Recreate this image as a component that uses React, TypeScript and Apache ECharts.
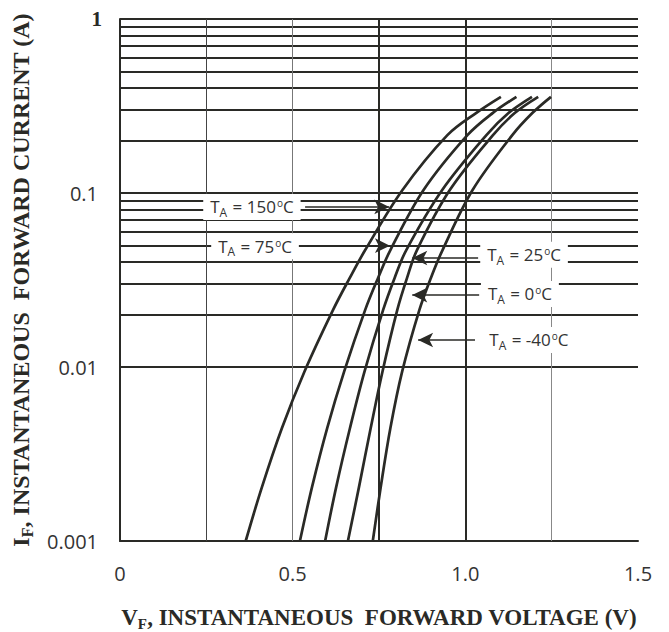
import React, { useEffect, useRef } from "react";
import * as echarts from "echarts";

// Forward current (A) sample levels shared by all curves
const currentA = [0.001, 0.00204, 0.00446, 0.0094, 0.0213, 0.0324, 0.047, 0.104, 0.215, 0.288, 0.357];
// Forward voltage (V) at each current level, per ambient temperature
const vT150 = [0.364, 0.411, 0.469, 0.534, 0.617, 0.665, 0.71, 0.818, 0.948, 1.031, 1.103];
const vT75 = [0.521, 0.556, 0.6, 0.649, 0.71, 0.747, 0.783, 0.879, 1.006, 1.079, 1.148];
const vT25 = [0.594, 0.626, 0.666, 0.708, 0.762, 0.795, 0.829, 0.933, 1.061, 1.125, 1.193];
const vT0 = [0.66, 0.692, 0.726, 0.76, 0.803, 0.831, 0.86, 0.955, 1.08, 1.143, 1.211];
const vTm40 = [0.732, 0.755, 0.783, 0.817, 0.867, 0.9, 0.934, 1.021, 1.136, 1.194, 1.248];
const curveVolts = [vT150, vT75, vT25, vT0, vTm40];
const temps = ["150", "75", "25", "0", "-40"];

const xTicks = [0, 0.5, 1.0, 1.5];
const xTickLabels = ["0", "0.5", "1.0", "1.5"];
const yTicks = [0.001, 0.01, 0.1, 1];
const yTickLabels = ["0.001", "0.01", "0.1", "1"];

const hGridCurrents = [
  0.002, 0.003, 0.004, 0.005, 0.006, 0.007, 0.008, 0.009,
  0.01, 0.02, 0.03, 0.04, 0.05, 0.06, 0.07, 0.08, 0.09,
  0.1, 0.2, 0.3, 0.4, 0.5, 0.6, 0.7, 0.8, 0.9, 1,
];
const vGridVolts = [0.25, 0.5, 0.75, 1.0, 1.25];

// annotation anchors (data space)
const labelV = [0.382, 0.391, 1.17, 1.158, 1.184];
const labelI = [0.0832, 0.0495, 0.0441, 0.0263, 0.0143];
const arrowFromV = [0.536, 0.544, 1.037, 1.04, 1.028];
const arrowToV = [0.8, 0.802, 0.826, 0.826, 0.843];
const arrowI = [0.0832, 0.0498, 0.0423, 0.0259, 0.0143];

const INK = "#2a2a26";
const SANS = "'Open Sans', 'Noto Sans', sans-serif";
const SERIF = "'Liberation Serif', 'DejaVu Serif', serif";

const vGridStyles = [
  { color: "#444", width: 1 },
  { color: "#777", width: 1 },
  { color: INK, width: 2 },
  { color: INK, width: 2 },
  { color: "#888", width: 1 },
];

export default function App() {
  const ref = useRef<HTMLDivElement>(null);

  useEffect(() => {
    if (!ref.current) return;
    const chart = echarts.init(ref.current, undefined, { renderer: "svg" });

    const nameRich = (size: number) => ({
      b: { fontFamily: SERIF, fontWeight: "bold", fontSize: size, color: INK, lineHeight: 26 },
      s: {
        fontFamily: SERIF,
        fontWeight: "bold",
        fontSize: Math.round(size * 0.66),
        color: INK,
        lineHeight: 13,
        padding: [13, 0, 0, 0],
      },
    });

    const labelRich = {
      t: { fontFamily: SANS, fontSize: 17, color: "#333", lineHeight: 22 },
      s: { fontFamily: SANS, fontSize: 12, color: "#333", lineHeight: 11, padding: [11, 1, 0, 0] },
      o: { fontFamily: SANS, fontSize: 10, color: "#333", lineHeight: 10, padding: [0, 0, 7, 1] },
    };

    const curveSeries = curveVolts.map((vs, k) => ({
      name: "TA = " + temps[k] + "°C",
      type: "line",
      data: vs.map((v, i) => [v, currentA[i]]),
      smooth: 0.35,
      showSymbol: false,
      symbol: "none",
      lineStyle: { color: INK, width: 2.7 },
      z: 3,
      silent: true,
    }));

    // arrow head: half of its length back from the tip, in data units
    const headHalf = 7 / 345.3;

    const option: any = {
      animation: false,
      backgroundColor: "#fff",
      grid: { left: 120, right: 31, top: 19, bottom: 91, containLabel: false, outerBoundsMode: "none" },
      xAxis: {
        type: "value",
        min: 0,
        max: 1.5,
        interval: 0.5,
        axisLine: { show: true, lineStyle: { color: INK, width: 2 } },
        axisTick: { show: false },
        splitLine: { show: false },
        axisLabel: {
          margin: 22,
          fontFamily: SANS,
          fontSize: 20,
          color: "#333",
          formatter: (v: number) => {
            const i = xTicks.findIndex((t) => Math.abs(t - v) < 1e-6);
            return i >= 0 ? xTickLabels[i] : "";
          },
        },
        name: "{b|V}{s|F}{b|, INSTANTANEOUS  FORWARD VOLTAGE (V)}",
        nameLocation: "middle",
        nameGap: 63,
        nameTextStyle: { rich: nameRich(23) },
      },
      yAxis: {
        type: "log",
        logBase: 10,
        min: 0.001,
        max: 1,
        axisLine: { show: true, lineStyle: { color: INK, width: 2 } },
        axisTick: { show: false },
        splitLine: { show: false },
        minorSplitLine: { show: false },
        axisLabel: {
          margin: 22,
          formatter: (v: number) => {
            const i = yTicks.findIndex((t) => Math.abs(Math.log10(t) - Math.log10(v)) < 0.01);
            if (i < 0) return "";
            const s = yTickLabels[i];
            return s === "1" ? "{b|" + s + "}" : "{n|" + s + "}";
          },
          rich: {
            n: { fontFamily: SANS, fontSize: 20, color: "#333" },
            b: { fontFamily: SERIF, fontWeight: "bold", fontSize: 21, color: INK, padding: [0, -4, 0, 0] },
          },
        },
        name: "{b|I}{s|F}{b|, INSTANTANEOUS  FORWARD CURRENT (A)}",
        nameLocation: "middle",
        nameGap: 86,
        nameRotate: 90,
        nameTextStyle: { rich: nameRich(24) },
      },
      series: [
        {
          type: "line",
          data: [],
          silent: true,
          z: 1,
          markLine: {
            silent: true,
            z: 1,
            symbol: ["none", "none"],
            label: { show: false },
            emphasis: { disabled: true },
            animation: false,
            data: [
              ...hGridCurrents.map((c) => ({ yAxis: c, lineStyle: { color: INK, width: 2.2, type: "solid" } })),
              ...vGridVolts.map((v, i) => ({ xAxis: v, lineStyle: { ...vGridStyles[i], type: "solid" } })),
            ],
          },
        },
        ...curveSeries,
        {
          type: "line",
          data: [],
          silent: true,
          z: 10,
          markLine: {
            silent: true,
            z: 10,
            symbol: ["none", "none"],
            label: { show: false },
            emphasis: { disabled: true },
            animation: false,
            lineStyle: { color: INK, width: 1.6, type: "solid" },
            data: temps.map((_, i) => [
              { coord: [arrowFromV[i], arrowI[i]] },
              { coord: [arrowToV[i] + (arrowToV[i] > arrowFromV[i] ? -headHalf : headHalf), arrowI[i]] },
            ]),
          },
          markPoint: {
            silent: true,
            z: 11,
            animation: false,
            data: [
              ...temps.map((t, i) => ({
                coord: [labelV[i], labelI[i]],
                symbol: "circle",
                symbolSize: 1,
                itemStyle: { color: "rgba(0,0,0,0)" },
                label: {
                  show: true,
                  position: "inside",
                  backgroundColor: "#fff",
                  padding: [2, 7, 2, 7],
                  rich: labelRich,
                  formatter: "{t|T}{s|A}{t| = " + t + "}{o|o}{t|C}",
                },
              })),
              ...temps.map((_, i) => {
                const right = arrowToV[i] > arrowFromV[i];
                return {
                  coord: [arrowToV[i] + (right ? -headHalf : headHalf), arrowI[i]],
                  symbol: "arrow",
                  symbolSize: [11, 15],
                  symbolRotate: right ? -90 : 90,
                  itemStyle: { color: INK },
                  label: { show: false },
                };
              }),
            ],
          },
        },
      ],
    };

    chart.setOption(option);
    return () => chart.dispose();
  }, []);

  return (
    <div
      ref={ref}
      style={{ position: "fixed", left: 0, top: 0, width: 669, height: 632, background: "#fff" }}
    />
  );
}
